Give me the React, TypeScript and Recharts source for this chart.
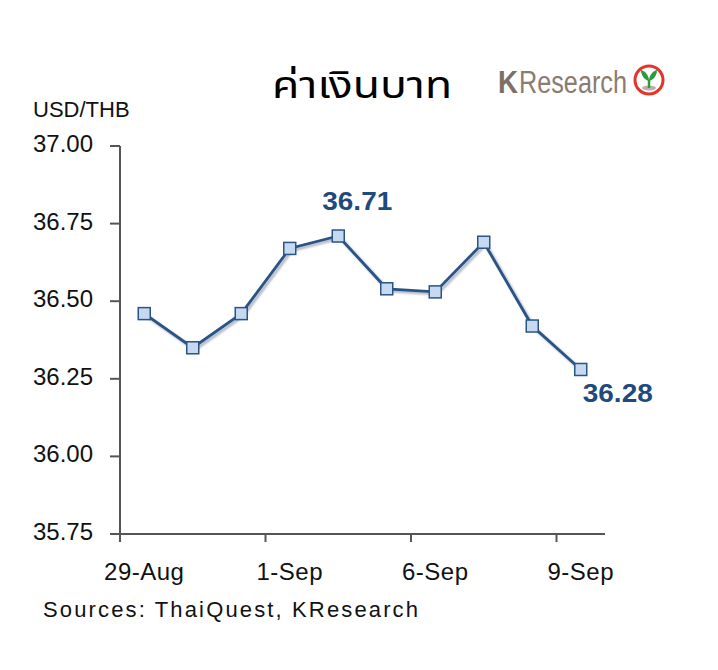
import React from 'react';
import { LineChart, Line, XAxis, YAxis, LabelList } from 'recharts';

// ---- data ----
const dates = ['29-Aug', '30-Aug', '31-Aug', '1-Sep', '2-Sep', '5-Sep', '6-Sep', '7-Sep', '8-Sep', '9-Sep'];
const usdThb = [36.46, 36.35, 36.46, 36.67, 36.71, 36.54, 36.53, 36.69, 36.42, 36.28];
const yTicks = [35.75, 36.0, 36.25, 36.5, 36.75, 37.0];
const labelledIndices = [4, 9];

const data = dates.map((d, i) => ({ date: d, value: usdThb[i] }));

const AXIS = '#555555';
const LINE = '#2A5486';
const LABEL = '#1F4A7E';
const FONT = "'Liberation Sans', Arial, sans-serif";

const XTick = (props: any) => {
  const { x, y, payload } = props;
  const off = payload && payload.offset != null ? payload.offset : 0;
  return (
    <g>
      <line x1={x - off} x2={x - off} y1={y} y2={y + 8} stroke={AXIS} strokeWidth={2} />
      <text x={x} y={y + 46} textAnchor="middle" fontFamily={FONT} fontSize={24} letterSpacing={0.5} fill="#111">
        {payload.value}
      </text>
    </g>
  );
};

const YTick = (props: any) => {
  const { x, y, payload } = props;
  return (
    <g>
      <line x1={x - 10} x2={x} y1={y} y2={y} stroke={AXIS} strokeWidth={2} />
      <text x={x - 27} y={y + 6} textAnchor="end" fontFamily={FONT} fontSize={24} fill="#111">
        {Number(payload.value).toFixed(2)}
      </text>
    </g>
  );
};

const SquareDot = (props: any) => {
  const { cx, cy } = props;
  if (cx == null || cy == null) return null;
  return <rect x={cx - 6} y={cy - 6} width={12} height={12} fill="#C6D9F1" stroke={LINE} strokeWidth={1.5} />;
};

const ValueLabel = (props: any) => {
  const { x, y, value, index } = props;
  if (!labelledIndices.includes(index)) return null;
  const last = index === usdThb.length - 1;
  const dx = last ? 37 : 19;
  const dy = last ? 33 : -26;
  return (
    <text
      x={x + dx}
      y={y + dy}
      textAnchor="middle"
      fontFamily={FONT}
      fontSize={26}
      fontWeight="bold"
      fill={LABEL}
      textLength={70}
      lengthAdjust="spacingAndGlyphs"
    >
      {Number(value).toFixed(2)}
    </text>
  );
};

export default function App() {
  return (
    <div style={{ position: 'absolute', left: 0, top: 0, width: 718, height: 670, background: '#fff' }}>
      <style>{`.recharts-line-curve{filter:drop-shadow(2px 2px 1px rgba(80,100,130,0.5));}`}</style>
      <LineChart width={718} height={670} data={data} margin={{ top: 146, right: 113, bottom: 106, left: 0 }}>
        <XAxis
          dataKey="date"
          type="category"
          scale="band"
          interval={2}
          height={30}
          tickSize={0}
          tickMargin={0}
          tickLine={false}
          axisLine={{ stroke: AXIS, strokeWidth: 2 }}
          tick={<XTick />}
        />
        <YAxis
          type="number"
          domain={[35.75, 37]}
          ticks={yTicks}
          width={120}
          tickSize={0}
          tickMargin={0}
          tickLine={false}
          axisLine={{ stroke: AXIS, strokeWidth: 2 }}
          tick={<YTick />}
        />
        <Line
          dataKey="value"
          stroke={LINE}
          strokeWidth={2.8}
          dot={<SquareDot />}
          activeDot={false}
          isAnimationActive={false}
        >
          <LabelList dataKey="value" content={<ValueLabel />} />
        </Line>
      </LineChart>
      <svg width={718} height={670} style={{ position: 'absolute', left: 0, top: 0, pointerEvents: 'none' }}>
        <text x={272} y={98} fontFamily="Tahoma, 'Noto Sans Thai', 'Loma', 'Garuda', sans-serif" fontSize={38} fill="#000" textLength={180} lengthAdjust="spacingAndGlyphs">
          ค่าเงินบาท
        </text>
        <text x={498} y={93} fontFamily={FONT} fontSize={31} fontWeight="bold" fill="#7E6F63" textLength={20} lengthAdjust="spacingAndGlyphs">
          K
        </text>
        <text x={519} y={93} fontFamily={FONT} fontSize={31} fill="#8A7C70" textLength={108} lengthAdjust="spacingAndGlyphs">
          Research
        </text>
        <g>
          <circle cx={649} cy={80} r={14} fill="#fff" stroke="#E2352B" strokeWidth={3} />
          <ellipse cx={649} cy={88} rx={7} ry={2.5} fill="#B9B2AA" />
          <path d="M649 88 L649 80" stroke="#2E9A3C" strokeWidth={2.5} />
          <path d="M649 81 C645 80 641 76 641 70 C645 71 649 75 649 81 Z" fill="#2E9A3C" />
          <path d="M649 81 C653 80 657 76 657 70 C653 71 649 75 649 81 Z" fill="#2E9A3C" />
        </g>
        <text x={33} y={117} fontFamily={FONT} fontSize={22} fill="#111">
          USD/THB
        </text>
        <text x={43} y={617} fontFamily={FONT} fontSize={22} fill="#111" textLength={375} lengthAdjust="spacing">
          Sources: ThaiQuest, KResearch
        </text>
      </svg>
    </div>
  );
}
